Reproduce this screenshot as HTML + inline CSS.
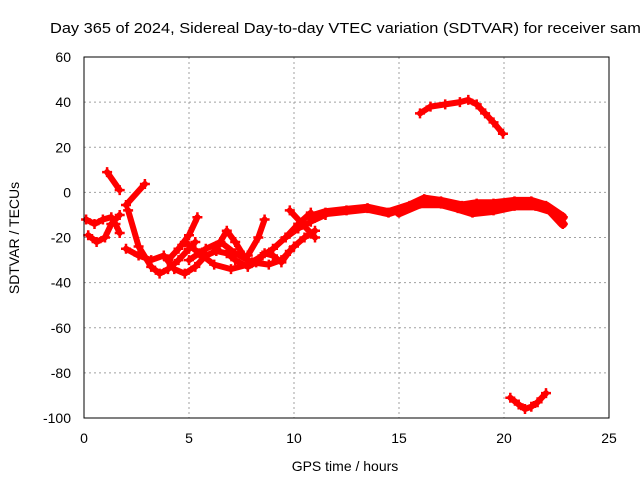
<!DOCTYPE html>
<html><head><meta charset="utf-8"><style>
html,body{margin:0;padding:0;background:#fff;overflow:hidden}
svg{display:block;font-family:"Liberation Sans",sans-serif}
</style></head><body>
<svg id="chart" width="640" height="480" viewBox="0 0 640 480">
<text x="50" y="33" font-size="15" textLength="600" lengthAdjust="spacingAndGlyphs" fill="#000">Day 365 of 2024, Sidereal Day-to-day VTEC variation (SDTVAR) for receiver samo</text>
<g id="grid"></g>
<g id="ticks"></g>
<g id="series"></g>
<rect x="84" y="57" width="525" height="361" fill="none" stroke="#000" stroke-width="1"/>
<text x="345" y="471" font-size="14" text-anchor="middle">GPS time / hours</text>
<text transform="translate(19,238) rotate(-90)" font-size="14" text-anchor="middle">SDTVAR / TECUs</text>
</svg>
<script>
const xTicks=[0,5,10,15,20,25];
const yTicks=[60,40,20,0,-20,-40,-60,-80,-100];
const trackA=[[0.2,-19],[0.6,-22],[1.0,-20],[1.3,-14],[1.7,-10]];
const trackB=[[0.1,-12],[0.5,-14],[0.9,-12],[1.3,-11]];
const trackC=[[1.1,9],[1.7,1]];
const trackD=[[2.0,-5.6],[2.9,3.7]];
const trackE=[[1.5,-14],[1.7,-18]];
const trackF=[[2.1,-8],[2.6,-24],[3.2,-33],[3.6,-36],[4.0,-34],[4.5,-30],[5.0,-25],[5.3,-22]];
const trackG=[[2.0,-25],[2.6,-28],[3.2,-30],[3.8,-28],[4.3,-34],[4.8,-36],[5.3,-33],[5.8,-28],[6.3,-26],[6.8,-27],[7.2,-30],[7.8,-33],[8.2,-31],[8.6,-27],[9.0,-28],[9.4,-31],[9.8,-26]];
const trackH=[[4.0,-30],[4.5,-25],[5.0,-19],[5.4,-11]];
const trackI=[[4.8,-22],[5.5,-27],[6.2,-32],[7.0,-34],[7.8,-32],[8.5,-28],[9.0,-25],[9.6,-20],[10.2,-16],[10.8,-13],[11.5,-10]];
const trackJ=[[5.0,-30],[5.8,-25],[6.5,-22],[7.2,-27],[8.0,-31],[8.8,-32],[9.4,-30],[10.0,-24],[10.5,-20],[11.0,-17]];
const trackK=[[6.3,-25],[6.8,-17],[7.2,-22],[7.6,-28]];
const trackL=[[7.8,-28],[8.3,-20],[8.6,-12]];
const trackM=[[9.6,-20],[10.2,-14],[10.8,-9]];
const trackN=[[9.8,-8],[10.4,-14],[11.0,-20]];
const trackMain=[[10.8,-11],[11.5,-9],[12.5,-8],[13.5,-7],[14.5,-9],[15.5,-6],[16.2,-3],[17.0,-4],[18.0,-6],[18.7,-5],[19.5,-5],[20.5,-4],[21.3,-4],[22.0,-6],[22.8,-11]];
const trackMain2=[[15.0,-9],[16.0,-5],[17.0,-5],[17.8,-7],[18.5,-9],[19.5,-8],[20.5,-6],[21.5,-6],[22.2,-8],[22.8,-14]];
const trackTop=[[16.0,35],[16.5,38],[17.2,39],[17.9,40],[18.3,41],[18.7,39],[19.1,35],[19.5,31],[19.95,26]];
const trackBottom=[[20.3,-91],[20.7,-94],[21.0,-96],[21.3,-95],[21.6,-93],[22.0,-89]];
const tracks=[trackA,trackB,trackC,trackD,trackE,trackF,trackG,trackH,trackI,trackJ,trackK,trackL,trackM,trackN,trackMain,trackMain2,trackTop,trackBottom];
const wide=[trackMain,trackMain2];

const NS="http://www.w3.org/2000/svg";
const X=h=>84+h*(525/25);
const Y=v=>57+(60-v)*(361/160);
const grid=document.getElementById('grid'),ticks=document.getElementById('ticks'),ser=document.getElementById('series');
function mk(t,a,p){const e=document.createElementNS(NS,t);for(const k in a)e.setAttribute(k,a[k]);p.appendChild(e);return e;}
xTicks.forEach(t=>{
  const x=X(t);
  if(t>0&&t<25){const g=mk('line',{x1:x,y1:57,x2:x,y2:418,stroke:'#a0a0a0','stroke-dasharray':'2,3'},grid);
  
  }
  const l=mk('text',{x:x,y:443,'font-size':14,'text-anchor':'middle'},ticks);l.textContent=t;
  
  
});
yTicks.forEach(t=>{
  const y=Y(t);
  if(t<60&&t>-100){const g=mk('line',{x1:84,y1:y,x2:609,y2:y,stroke:'#a0a0a0','stroke-dasharray':'2,3'},grid);
  
  }
  const l=mk('text',{x:71,y:y+5,'font-size':14,'text-anchor':'end'},ticks);l.textContent=t;
  
  
});
tracks.forEach((tr,i)=>{
  const pts=tr.map(p=>X(p[0]).toFixed(1)+','+Y(p[1]).toFixed(1)).join(' ');
  const w=wide.includes(tr)?9:6;
  const pl=mk('polyline',{points:pts,fill:'none',stroke:'#ff0000','stroke-width':w,'stroke-linejoin':'round','stroke-linecap':'round'},ser);
  
  
  tr.forEach(p=>{
    const x=X(p[0]),y=Y(p[1]);
    const m=mk('path',{d:`M${x-5},${y}H${x+5}M${x},${y-5}V${y+5}`,stroke:'#ff0000','stroke-width':2.5},ser);
    
    
  });
});
</script>
</body></html>
